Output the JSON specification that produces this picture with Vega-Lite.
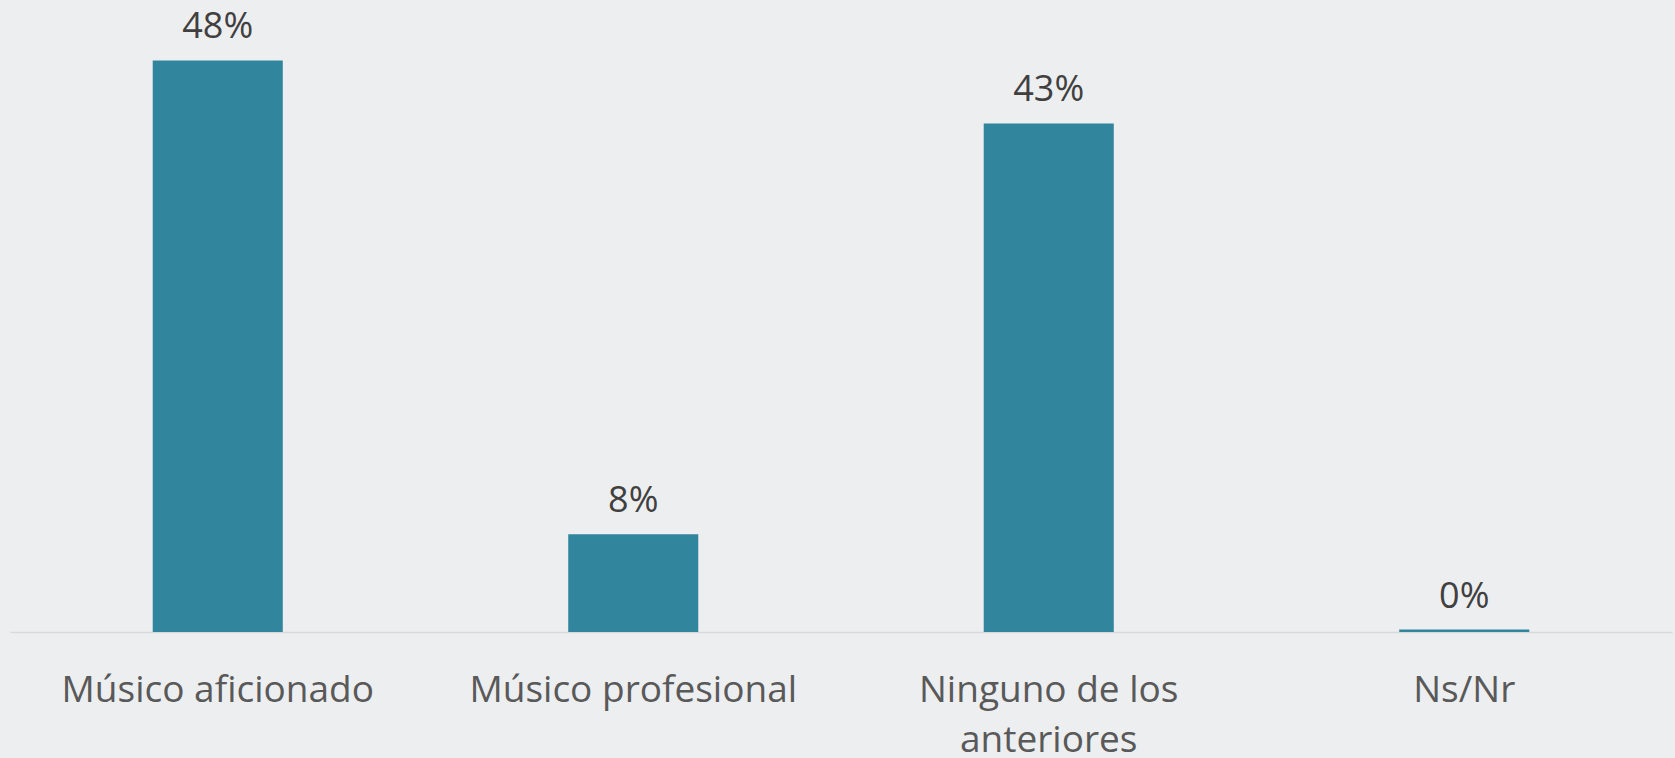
{
  "$schema": "https://vega.github.io/schema/vega-lite/v6.json",
  "width": 1662,
  "height": 632,
  "padding": {"left": 10, "top": 0, "right": 3, "bottom": 0},
  "background": "#EDEEF0",
  "config": {"view": {"stroke": null}, "font": "Open Sans"},
  "data": {
    "values": [
      {"categoria": "Músico aficionado", "valor": 48.0, "etiqueta": "48%"},
      {"categoria": "Músico profesional", "valor": 8.2, "etiqueta": "8%"},
      {"categoria": "Ninguno de los anteriores", "valor": 42.7, "etiqueta": "43%"},
      {"categoria": "Ns/Nr", "valor": 0.2, "etiqueta": "0%"}
    ]
  },
  "encoding": {
    "x": {
      "field": "categoria",
      "type": "nominal",
      "sort": null,
      "scale": {"paddingInner": 0.687, "paddingOuter": 0.3435},
      "axis": {
        "title": null,
        "labelAngle": 0,
        "ticks": false,
        "grid": false,
        "domainColor": "#D9D9D9",
        "domainWidth": 1.5,
        "labelFont": "Open Sans",
        "labelFontSize": 37,
        "labelColor": "#595959",
        "labelBaseline": "top",
        "labelPadding": 40,
        "labelLineHeight": 50,
        "labelLimit": 0,
        "labelExpr": "datum.label == 'Ninguno de los anteriores' ? ['Ninguno de los', 'anteriores'] : datum.label"
      }
    },
    "y": {
      "field": "valor",
      "type": "quantitative",
      "scale": {"domain": [0, 53.07], "nice": false, "zero": true},
      "axis": null
    }
  },
  "layer": [
    {"mark": {"type": "bar", "color": "#31859C"}},
    {
      "mark": {
        "type": "text",
        "baseline": "alphabetic",
        "dy": -22,
        "fontSize": 36,
        "font": "Open Sans",
        "color": "#404040"
      },
      "encoding": {"text": {"field": "etiqueta"}}
    }
  ]
}
